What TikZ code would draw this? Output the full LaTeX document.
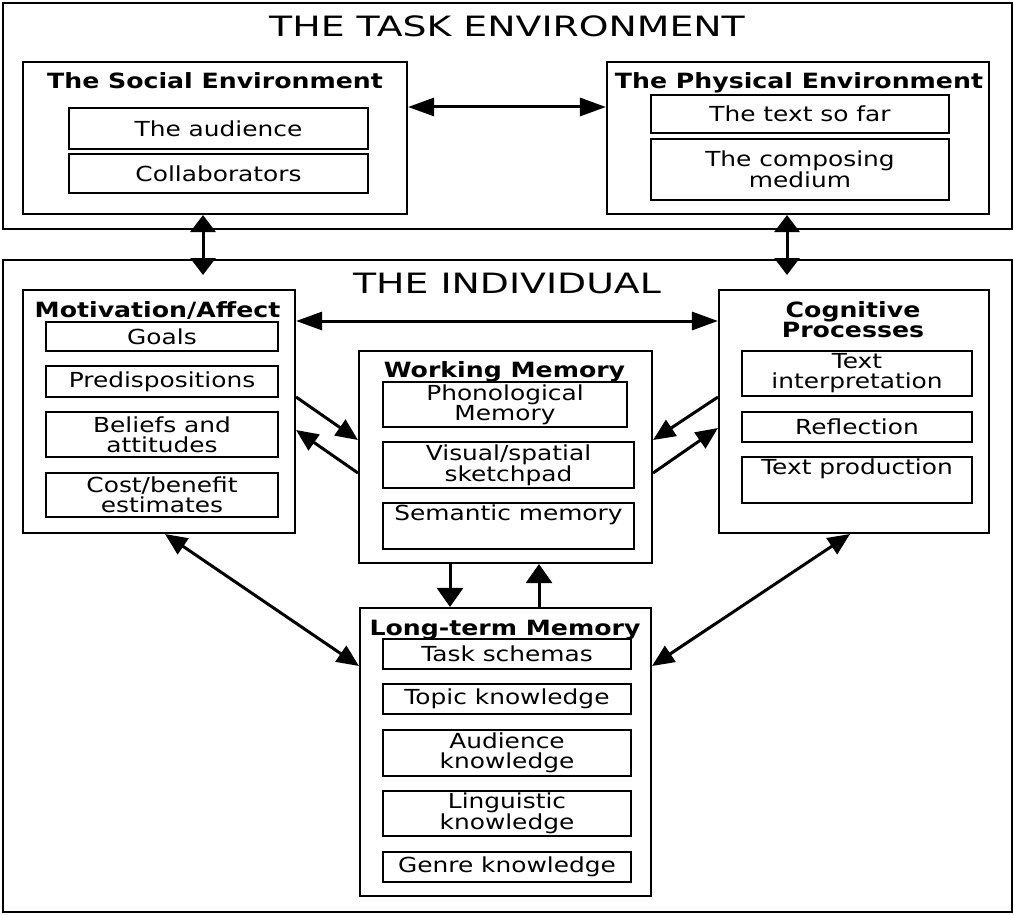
\documentclass[tikz,border=0pt]{standalone}
\usepackage{fontspec}
\setmainfont{DejaVu Sans}[FakeStretch=1.2]
\newfontfamily\titlefont{DejaVu Sans}[FakeStretch=1.35]
\usetikzlibrary{arrows.meta,calc}
\begin{document}
\begin{tikzpicture}[x=1pt,y=-1pt,
  bigbox/.style={draw, line width=2.1pt, inner sep=0pt},
  subbox/.style={draw, line width=1.9pt, inner sep=0pt, align=center, font=\fontsize{20.7}{20}\selectfont},
  ttl/.style={inner sep=0pt, font=\titlefont\fontsize{28}{30}\selectfont},
  hdr/.style={inner sep=0pt, align=center, font=\bfseries\fontsize{21}{20}\selectfont},
  conn/.style={line width=3pt},
  hh/.style={conn, {Triangle[length=26pt,width=18pt]}-{Triangle[length=26pt,width=18pt]}},
  vv/.style={conn, {Triangle[length=17pt,width=25pt]}-{Triangle[length=17pt,width=25pt]}},
  vs/.style={conn, -{Triangle[length=19pt,width=26pt]}},
  dd/.style={conn, {Triangle[length=22pt,width=19pt]}-{Triangle[length=22pt,width=19pt]}},
  ds/.style={conn, -{Triangle[length=22pt,width=19pt]}}]
\useasboundingbox (0,0) rectangle (1014,915);

% Task environment
\node[bigbox, minimum width=1009pt, minimum height=226pt] (task) at (507.5,116) {};
\node[ttl] (taskT) at (507,26) {THE TASK ENVIRONMENT};

\node[bigbox, minimum width=384pt, minimum height=152pt] (social) at (215,138) {};
\node[hdr, anchor=base] (socialT) at (215,89) {The Social Environment};
\node[subbox, minimum width=299pt, minimum height=41pt] (aud) at (218.5,128.5) {The audience};
\node[subbox, minimum width=299pt, minimum height=39pt] (coll) at (218.5,173.5) {Collaborators};

\node[bigbox, minimum width=382pt, minimum height=152pt] (physical) at (798,138) {};
\node[hdr, anchor=base] (physicalT) at (799,89) {The Physical Environment};
\node[subbox, minimum width=298pt, minimum height=38pt] (sofar) at (800,114) {The text so far};
\node[subbox, minimum width=298pt, minimum height=61pt] (medium) at (800,169.5) {The composing\\medium};

% Individual
\node[bigbox, minimum width=1009pt, minimum height=652pt] (ind) at (507.5,586) {};
\node[ttl] (indT) at (507,283.5) {THE INDIVIDUAL};

\node[bigbox, minimum width=272pt, minimum height=243pt] (mot) at (159,411.5) {};
\node[hdr, anchor=base] (motT) at (157.5,317) {Motivation/Affect};
\node[subbox, minimum width=232pt, minimum height=29pt] (goals) at (162,336.5) {Goals};
\node[subbox, minimum width=232pt, minimum height=31pt] (predis) at (162,381.5) {Predispositions};
\node[subbox, minimum width=232pt, minimum height=45pt] (beliefs) at (162,434.5) {Beliefs and\\attitudes};
\node[subbox, minimum width=232pt, minimum height=44pt] (cost) at (162,495) {Cost/benefit\\estimates};

\node[bigbox, minimum width=293pt, minimum height=212pt] (wm) at (505.5,457) {};
\node[hdr, anchor=base] (wmT) at (504.5,377) {Working Memory};
\node[subbox, minimum width=244pt, minimum height=45pt] (phono) at (505,404.5) {Phonological\\Memory};
\node[subbox, minimum width=251pt, minimum height=46pt] (visual) at (508.5,465) {Visual/spatial\\sketchpad};
\node[subbox, minimum width=251pt, minimum height=46pt] (semantic) at (508.5,526) {Semantic memory\\\strut};

\node[bigbox, minimum width=270pt, minimum height=243pt] (cog) at (854,411.5) {};
\node[hdr] (cogT) at (853,320) {Cognitive\\Processes};
\node[subbox, minimum width=230pt, minimum height=45pt] (interp) at (857,373.5) {Text\\interpretation};
\node[subbox, minimum width=230pt, minimum height=30pt] (refl) at (857,427) {Reflection};
\node[subbox, minimum width=230pt, minimum height=46pt] (prod) at (857,480) {Text production\\\strut};

\node[bigbox, minimum width=291pt, minimum height=288pt] (ltm) at (505.5,752) {};
\node[hdr, anchor=base] (ltmT) at (505,635) {Long-term Memory};
\node[subbox, minimum width=248pt, minimum height=30pt] (task2) at (507,654) {Task schemas};
\node[subbox, minimum width=248pt, minimum height=30pt] (topic) at (507,699) {Topic knowledge};
\node[subbox, minimum width=248pt, minimum height=46pt] (audk) at (507,753) {Audience\\knowledge};
\node[subbox, minimum width=248pt, minimum height=45pt] (ling) at (507,813.5) {Linguistic\\knowledge};
\node[subbox, minimum width=248pt, minimum height=30pt] (genre) at (507,867) {Genre knowledge};

% Connectors
\coordinate (sI) at (203,275);
\coordinate (pI) at (787,275);
\draw[hh] ([yshift=31pt]social.east) -- ([yshift=31pt]physical.west);
\draw[vv] ([xshift=-12pt]social.south) -- (sI);
\draw[vv] ([xshift=-11pt]physical.south) -- (pI);

\draw[hh] ([yshift=90.5pt]mot.east) -- ([yshift=90.5pt]cog.west);
\draw[ds] ([yshift=14.5pt]mot.east) -- ([yshift=17pt]wm.west);
\draw[ds] ([yshift=-16pt]wm.west) -- ([yshift=-18.5pt]mot.east);
\draw[ds] ([yshift=14.5pt]cog.west) -- ([yshift=17pt]wm.east);
\draw[ds] ([yshift=-16pt]wm.east) -- ([yshift=-16.5pt]cog.west);
\draw[vs] ([xshift=-55.5pt]wm.south) -- ([xshift=-55.5pt]ltm.north);
\draw[vs] ([xshift=33.5pt]ltm.north) -- ([xshift=33.5pt]wm.south);
\draw[dd] ([xshift=6pt]mot.south) -- ([yshift=86pt]ltm.west);
\draw[dd] ([xshift=-4pt]cog.south) -- ([yshift=86pt]ltm.east);
\end{tikzpicture}
\end{document}
